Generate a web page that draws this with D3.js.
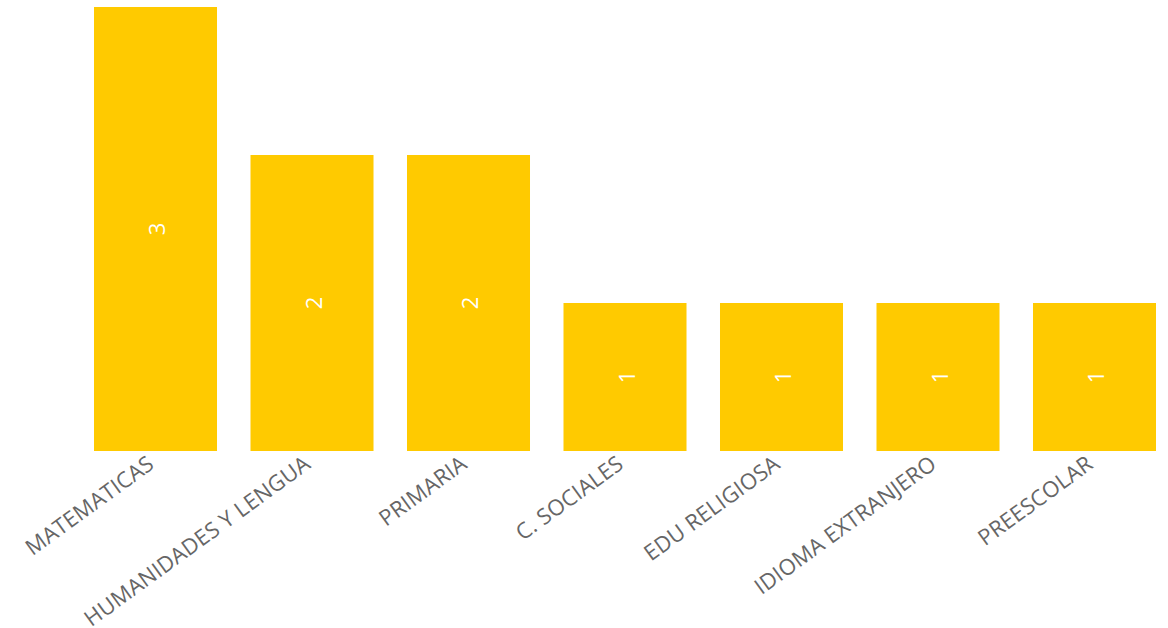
<!DOCTYPE html>
<html><head><meta charset="utf-8">
<script src="https://cdn.jsdelivr.net/npm/d3@7"></script>
<style>body{margin:0;background:#fff;}svg{display:block;font-family:"Open Sans",sans-serif;}</style>
</head><body><svg id="c" width="1168" height="628"></svg>
<script>
const categories = ["MATEMATICAS","HUMANIDADES Y LENGUA","PRIMARIA","C. SOCIALES","EDU RELIGIOSA","IDIOMA EXTRANJERO","PREESCOLAR"];
const values = [3,2,2,1,1,1,1];

const svg = d3.select("#c");
const x = d3.scaleBand().domain(categories).range([94,1156]).paddingInner(0.214).paddingOuter(0);
const y = d3.scaleLinear().domain([0,3]).range([451,7]);

svg.selectAll("rect.bar").data(values).join("rect")
  .attr("class","bar")
  .attr("x",(d,i)=>x(categories[i]))
  .attr("y",d=>y(d))
  .attr("width",x.bandwidth())
  .attr("height",d=>y(0)-y(d))
  .attr("fill","#FFCA00");

svg.selectAll("text.val").data(values).join("text")
  .attr("class","val")
  .attr("transform",(d,i)=>`translate(${x(categories[i])+x.bandwidth()/2+2},${(y(d)+y(0))/2}) rotate(-90)`)
  .attr("text-anchor","middle").attr("dy","0.35em")
  .attr("fill","#fff").attr("font-size",22).attr("font-weight",400)
  .text(d=>d);

const axis = svg.append("g").attr("transform","translate(0,451)")
  .call(d3.axisBottom(x).tickSize(0).tickPadding(0));
axis.select(".domain").remove();
axis.selectAll("text")
  .attr("font-size",22).attr("letter-spacing",0.2).attr("fill","#666").attr("font-family","'Open Sans',sans-serif")
  .attr("text-anchor","end").attr("dy",null).attr("y",0)
  .attr("transform","translate(0,16) rotate(-36)");
</script></body></html>
